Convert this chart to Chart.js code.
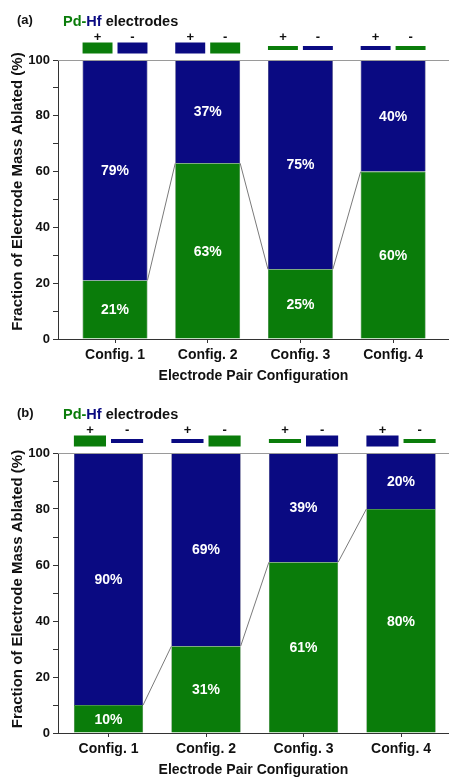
<!DOCTYPE html>
<html>
<head>
<meta charset="utf-8">
<script src="https://cdn.jsdelivr.net/npm/chart.js@4"></script>
<style>
  html, body { margin: 0; padding: 0; background: #fff; }
  .panel { position: absolute; left: 0; width: 449px; }
  #pa { top: 0; height: 388px; }
  #pb { top: 388px; height: 391px; }
</style>
</head>
<body>
<div class="panel" id="pa"><canvas id="ca"></canvas></div>
<div class="panel" id="pb"><canvas id="cb"></canvas></div>
<script>
// ---- data ----
const categories = ['Config. 1', 'Config. 2', 'Config. 3', 'Config. 4'];
const pdA = [21, 63, 25, 60];
const hfA = [79, 37, 75, 40];
const pdB = [10, 31, 61, 80];
const hfB = [90, 69, 39, 20];
// electrode metal and electrode size for (+) and (-) of each configuration
const plusMetalA = ['Pd', 'Hf', 'Pd', 'Hf'];
const minusMetalA = ['Hf', 'Pd', 'Hf', 'Pd'];
const plusSizeA = ['large', 'large', 'small', 'small'];
const minusSizeA = ['large', 'large', 'small', 'small'];
const plusMetalB = ['Pd', 'Hf', 'Pd', 'Hf'];
const minusMetalB = ['Hf', 'Pd', 'Hf', 'Pd'];
const plusSizeB = ['large', 'small', 'small', 'large'];
const minusSizeB = ['small', 'large', 'large', 'small'];
const yTicks = [0, 20, 40, 60, 80, 100];
const yTitle = 'Fraction of Electrode Mass Ablated (%)';
const xTitle = 'Electrode Pair Configuration';

// ---- styles ----
const GREEN = '#0a7c0a';
const NAVY = '#0a0a82';
const FONT = 'Arial, "Liberation Sans", sans-serif';
const metalColor = m => (m === 'Pd' ? GREEN : NAVY);

function makePanel(canvasId, label, pd, hf, plusMetal, minusMetal, plusSize, minusSize, geom) {
  const decor = {
    id: 'decor' + canvasId,
    afterDatasetsDraw(chart) {
      const ctx = chart.ctx;
      const area = chart.chartArea;
      const m0 = chart.getDatasetMeta(0).data;
      const m1 = chart.getDatasetMeta(1).data;
      ctx.save();
      // connector lines between tops of Pd segments
      ctx.strokeStyle = '#7a7a7a';
      ctx.lineWidth = 1;
      for (let i = 0; i < m0.length - 1; i++) {
        const a = m0[i], b = m0[i + 1];
        ctx.beginPath();
        ctx.moveTo(a.x + a.width / 2, a.y);
        ctx.lineTo(b.x - b.width / 2, b.y);
        ctx.stroke();
      }
      // value labels
      ctx.fillStyle = '#fff';
      ctx.font = 'bold 14px ' + FONT;
      ctx.textAlign = 'center';
      ctx.textBaseline = 'middle';
      [[m0, pd], [m1, hf]].forEach(([meta, vals]) => {
        meta.forEach((el, i) => {
          ctx.fillText(vals[i] + '%', el.x, (el.y + el.base) / 2 + 1);
        });
      });
      // top frame line
      ctx.strokeStyle = '#9a9a9a';
      ctx.beginPath();
      ctx.moveTo(area.left, area.top + 0.5);
      ctx.lineTo(area.right, area.top + 0.5);
      ctx.stroke();
      // electrode icons
      m0.forEach((el, i) => {
        const left = el.x - el.width / 2;
        const w = (el.width - 5) / 2;
        const cy = area.top - 12;
        const items = [
          [left, plusMetal[i], plusSize[i], '+'],
          [left + w + 5, minusMetal[i], minusSize[i], '-']
        ];
        items.forEach(([x, metal, size, sign]) => {
          const h = size === 'large' ? 11 : 4;
          ctx.fillStyle = metalColor(metal);
          ctx.fillRect(x, cy - h / 2, w, h);
          ctx.fillStyle = '#111';
          ctx.font = 'bold 13px ' + FONT;
          ctx.fillText(sign, x + w / 2, area.top - 23);
        });
      });
      // y axis title
      ctx.save();
      ctx.translate(18, (area.top + area.bottom) / 2 + geom.yTitleShift);
      ctx.rotate(-Math.PI / 2);
      ctx.font = 'bold 15px ' + FONT;
      ctx.fillStyle = '#111';
      ctx.fillText(yTitle, 0, 0);
      ctx.restore();
      // panel label and legend title
      ctx.textAlign = 'left';
      ctx.font = 'bold 13px ' + FONT;
      ctx.fillStyle = '#111';
      ctx.fillText(label, 17, area.top - 40);
      let x = 63;
      const ty = area.top - 38;
      ctx.font = 'bold 14.5px ' + FONT;
      const parts = [['Pd-', GREEN], ['Hf', NAVY], [' electrodes', '#111']];
      parts.forEach(([t, c]) => {
        ctx.fillStyle = c;
        ctx.fillText(t, x, ty);
        x += ctx.measureText(t).width;
      });
      ctx.restore();
    }
  };

  return new Chart(document.getElementById(canvasId), {
    type: 'bar',
    data: {
      datasets: [
        { label: 'Pd', data: pd.map((v, i) => ({ x: i + 1, y: v })), backgroundColor: GREEN,
          borderColor: '#0b5e0b', borderWidth: 0.6, categoryPercentage: 1, barPercentage: geom.barPct },
        { label: 'Hf', data: hf.map((v, i) => ({ x: i + 1, y: v })), backgroundColor: NAVY,
          borderColor: '#06064f', borderWidth: 0.6, categoryPercentage: 1, barPercentage: geom.barPct }
      ]
    },
    options: {
      responsive: true,
      maintainAspectRatio: false,
      animation: false,
      layout: { padding: { top: geom.top, left: 0, right: 0, bottom: 0 } },
      plugins: { legend: { display: false }, tooltip: { enabled: false } },
      scales: {
        x: {
          type: 'linear',
          stacked: true,
          offset: false,
          min: geom.xmin,
          max: geom.xmax,
          afterBuildTicks: s => { s.ticks = categories.map((c, i) => ({ value: i + 1 })); },
          afterFit: s => { s.height = geom.xh; },
          ticks: {
            callback: v => categories[v - 1] || '',
            color: '#111', font: { family: FONT, size: 14, weight: 'bold' },
            padding: 4, maxRotation: 0, autoSkip: false
          },
          grid: { drawOnChartArea: false, offset: false, tickLength: 4, color: '#333' },
          border: { display: true, color: '#333', width: 1 },
          title: {
            display: true, text: xTitle, color: '#111',
            font: { family: FONT, size: 14, weight: 'bold' }, padding: { top: 4, bottom: geom.xTitlePad }
          }
        },
        y: {
          stacked: true,
          min: 0, max: 100,
          afterBuildTicks: s => {
            const t = [];
            for (let v = 0; v <= 100; v += 10) t.push({ value: v });
            s.ticks = t;
          },
          afterFit: s => { s.width = 58; },
          ticks: {
            callback: v => (yTicks.includes(v) ? String(v) : ''),
            color: '#111', font: { family: FONT, size: 13, weight: 'bold' }, padding: 3
          },
          grid: { drawOnChartArea: false, tickLength: 5, color: '#333' },
          border: { display: true, color: '#333', width: 1 }
        }
      }
    },
    plugins: [decor]
  });
}

makePanel('ca', '(a)', pdA, hfA, plusMetalA, minusMetalA, plusSizeA, minusSizeA,
  { top: 60, xh: 49, xmin: 0.385, xmax: 4.603, barPct: 0.70, xTitlePad: 3, yTitleShift: -8 });
makePanel('cb', '(b)', pdB, hfB, plusMetalB, minusMetalB, plusSizeB, minusSizeB,
  { top: 65, xh: 46, xmin: 0.482, xmax: 4.492, barPct: 0.71, xTitlePad: 0, yTitleShift: -4 });
</script>
</body>
</html>
